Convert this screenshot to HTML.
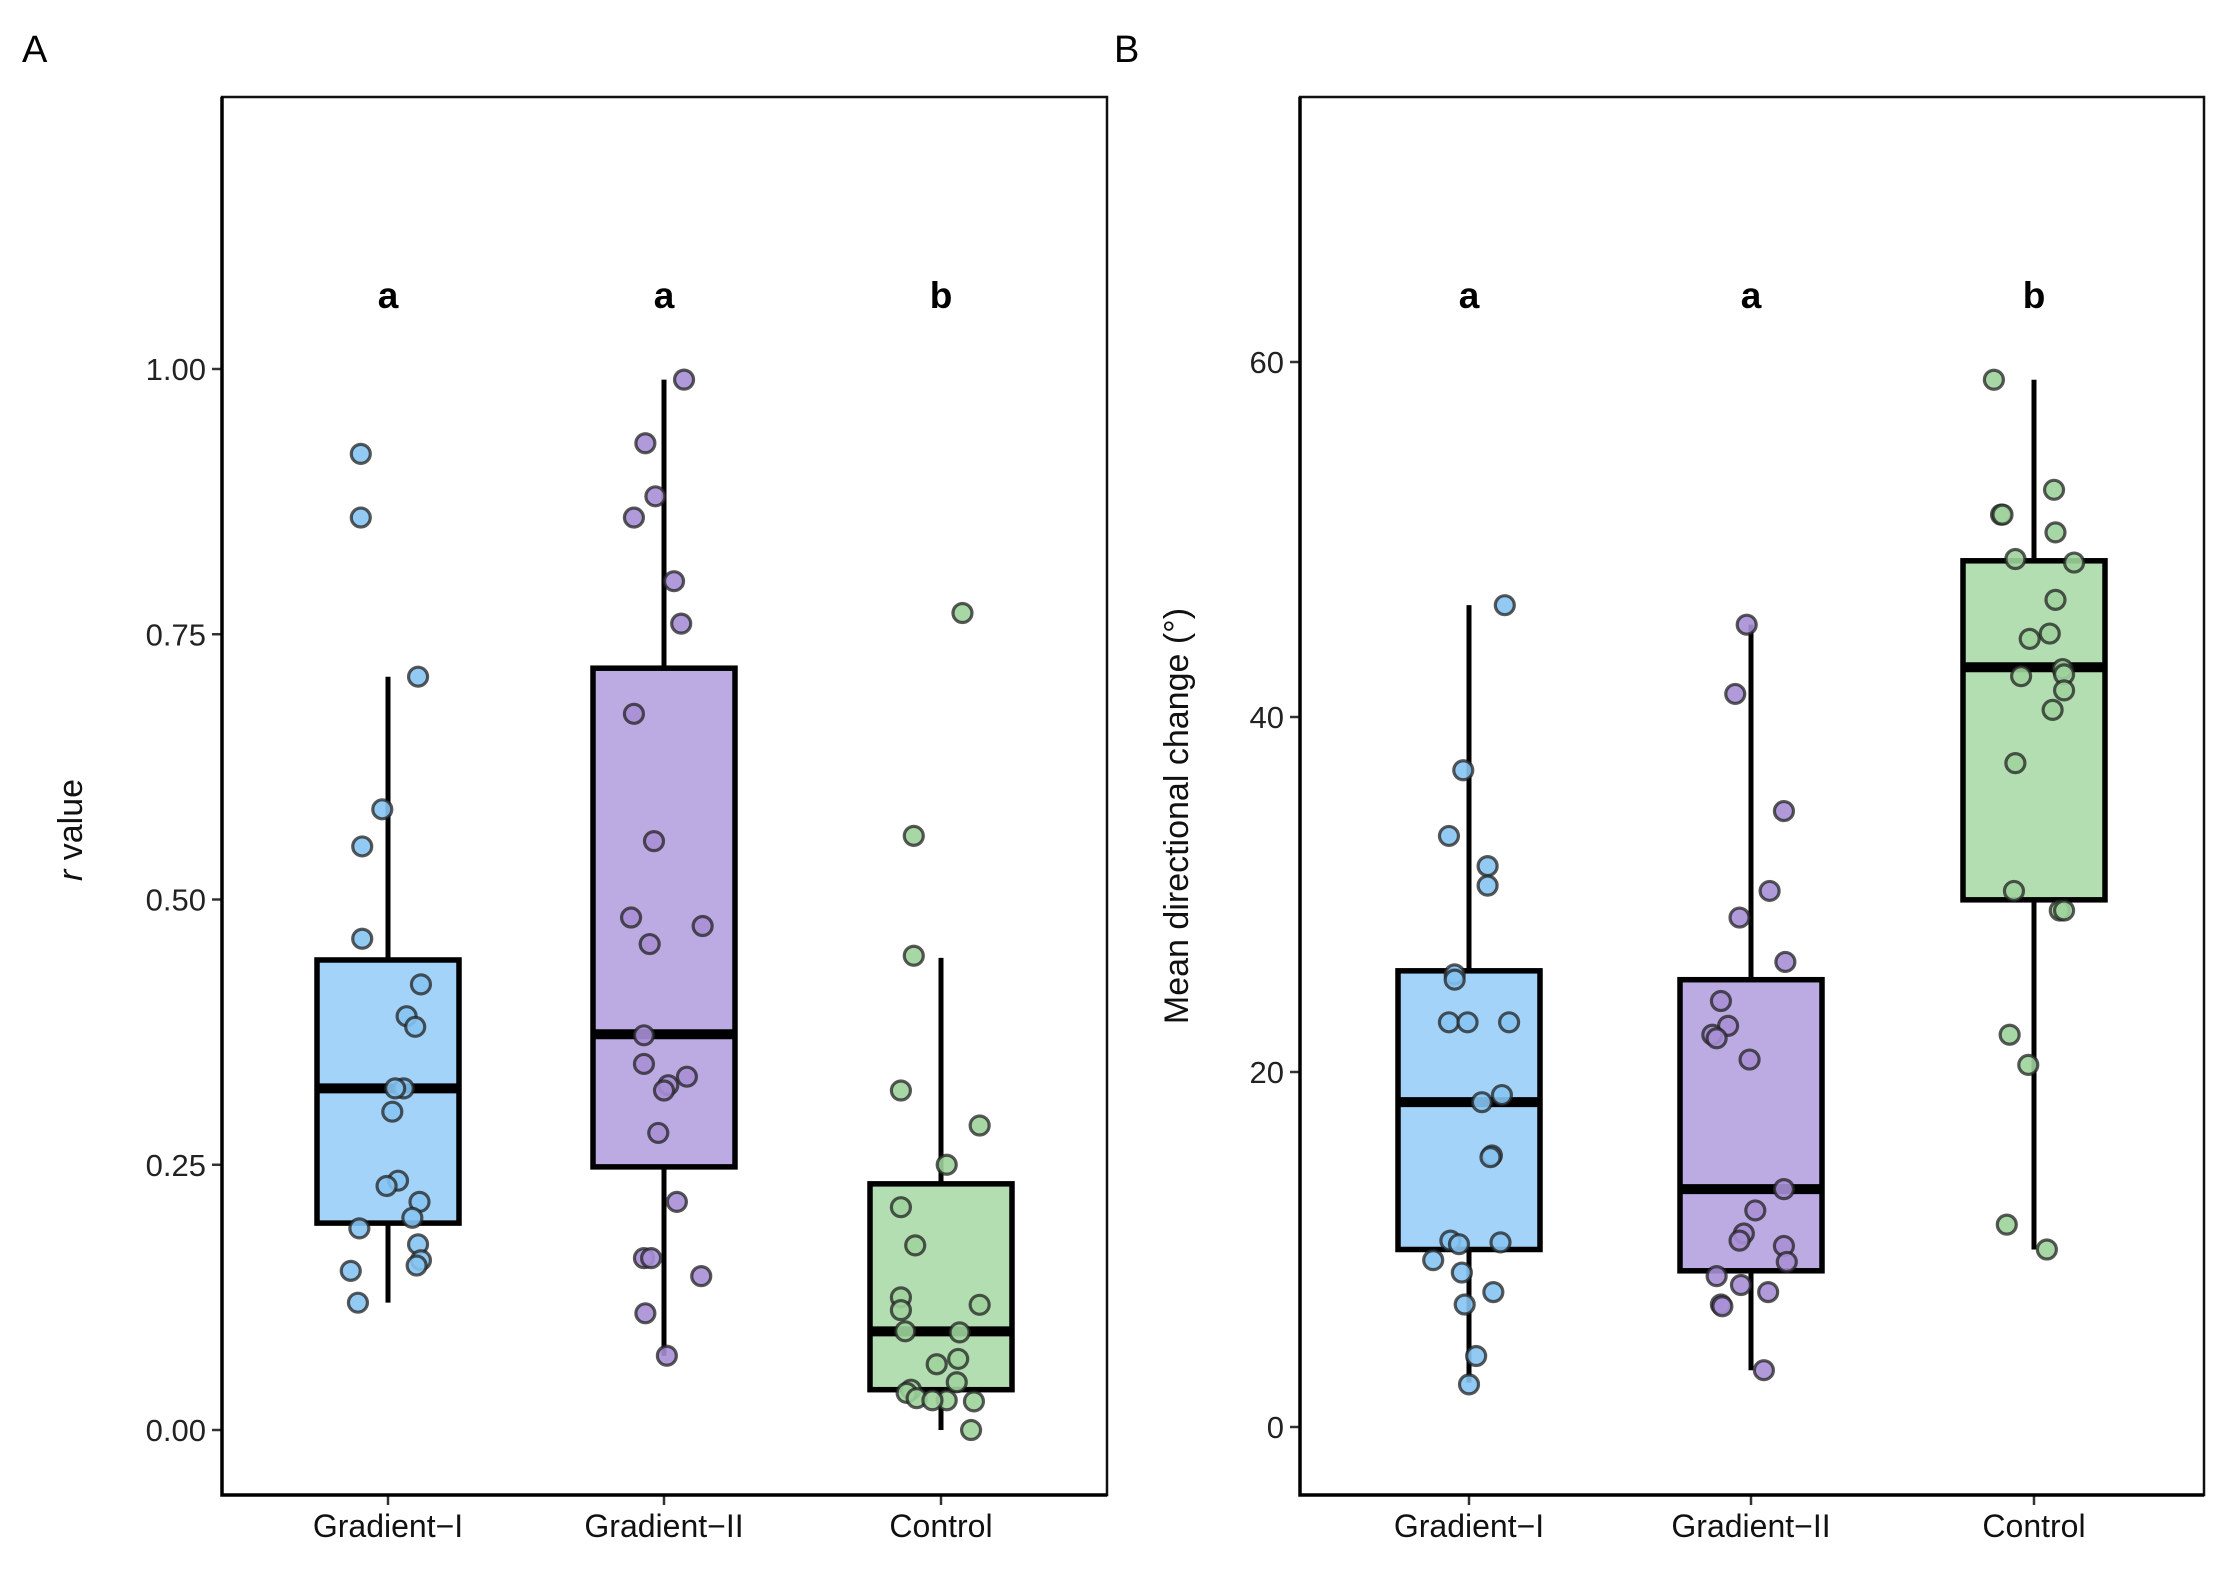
<!DOCTYPE html>
<html><head><meta charset="utf-8">
<style>
html,body{margin:0;padding:0;background:#fff;}
svg{display:block;font-family:"Liberation Sans",sans-serif;}
</style></head>
<body>
<svg id="chart" width="2234" height="1572" viewBox="0 0 2234 1572">
<text x="22" y="62" font-size="38">A</text>
<text x="1114" y="62" font-size="38">B</text>
</svg>
<script>
// ---- Panel A data (r value) ----
const categoriesA = ["Gradient\u2212I","Gradient\u2212II","Control"];
const lettersA = ["a","a","b"];
const ticksA = [0,0.25,0.5,0.75,1.0];
const tickLabelsA = ["0.00","0.25","0.50","0.75","1.00"];
const boxA_q1 = [0.195,0.248,0.038];
const boxA_med = [0.322,0.373,0.093];
const boxA_q3 = [0.443,0.718,0.232];
const boxA_lo = [0.12,0.07,0.0];
const boxA_hi = [0.71,0.99,0.445];
const pointsA_g1 = [0.92,0.86,0.71,0.585,0.55,0.463,0.42,0.39,0.38,0.322,0.322,0.30,0.235,0.23,0.215,0.20,0.19,0.175,0.16,0.155,0.15,0.12];
const jitterA_g1 = [-19,-19,21,-4,-18,-18,23,13,19,11,5,3,7,-1,22,17,-20,21,23,20,-26,-21];
const pointsA_g2 = [0.99,0.93,0.88,0.86,0.80,0.76,0.675,0.555,0.483,0.475,0.458,0.372,0.345,0.333,0.325,0.32,0.28,0.215,0.162,0.162,0.145,0.11,0.07];
const jitterA_g2 = [14,-13,-6,-21,7,12,-21,-7,-23,27,-10,-14,-14,16,3,0,-4,9,-14,-9,26,-13,2];
const pointsA_c = [0.77,0.56,0.447,0.32,0.287,0.25,0.21,0.174,0.125,0.113,0.118,0.093,0.092,0.062,0.067,0.045,0.038,0.035,0.03,0.028,0.027,0.028,0.0];
const jitterA_c = [15,-19,-19,-28,27,4,-28,-18,-28,-28,27,-25,13,-3,12,11,-21,-24,-17,4,23,-6,21];

// ---- Panel B data (Mean directional change) ----
const categoriesB = ["Gradient\u2212I","Gradient\u2212II","Control"];
const lettersB = ["a","a","b"];
const ticksB = [0,20,40,60];
const tickLabelsB = ["0","20","40","60"];
const boxB_q1 = [10,8.8,29.7];
const boxB_med = [18.3,13.4,42.8];
const boxB_q3 = [25.7,25.2,48.8];
const boxB_lo = [2.5,3.2,10];
const boxB_hi = [46.3,45.2,59];
const pointsB_g1 = [46.3,37,33.3,31.6,30.5,25.5,25.2,22.8,22.8,22.8,18.7,18.3,15.3,15.2,10.5,10.3,10.4,9.4,8.7,7.6,6.9,4.0,2.4];
const jitterB_g1 = [25,-4,-14,13,13,-10,-10,-14,-1,28,23,9,16,15,-13,-7,22,-25,-5,17,-3,5,0];
const pointsB_g2 = [45.2,41.3,34.7,30.2,28.7,26.2,24,22.6,22.1,21.9,20.7,13.4,12.2,10.9,10.5,10.2,9.3,8.5,8.0,7.6,6.9,6.8,3.2];
const jitterB_g2 = [-3,-11,23,13,-8,24,-21,-16,-27,-24,-1,23,3,-5,-8,23,25,-24,-7,12,-21,-20,9];
const pointsB_c = [59,52.8,51.4,51.4,50.4,48.9,48.7,46.6,44.7,44.4,42.7,42.4,42.3,41.5,40.4,37.4,30.2,29.1,29.1,22.1,20.4,11.4,10.0];
const jitterB_c = [-28,14,-23,-22,15,-13,28,15,11,-3,20,21,-9,21,13,-13,-14,18,21,-17,-4,-19,9];

const SC = 1.432;
const fills = ["#a3d3f8","#bcaae2","#b3deb1"];
const ptFills = ["#86c4f2","#a98fd6","#9fd39c"];
const NS = "http://www.w3.org/2000/svg";
const svg = document.getElementById("chart");
function mk(tag, attrs, parent){
  const e = document.createElementNS(NS, tag);
  for (const k in attrs) e.setAttribute(k, attrs[k]);
  (parent||svg).appendChild(e);
  return e;
}

function panel(cfg){
  const g = mk("g",{});
  
  
  const y = v => cfg.y0 + (v - cfg.v0) * (cfg.y1 - cfg.y0) / (cfg.v1 - cfg.v0);
  const xc = i => cfg.xs[i];
  cfg.ticks.forEach((t,i)=>{
    const ln = mk("line",{x1:cfg.left-10,x2:cfg.left,y1:y(t),y2:y(t),stroke:"#333","stroke-width":2.5},g);
    
    
    const tx = mk("text",{x:cfg.left-16,y:y(t)+11,"text-anchor":"end","font-size":31,fill:"#222"},g);
    tx.textContent = cfg.tickLabels[i];
    
    
  });
  cfg.cats.forEach((c,i)=>{
    const ln = mk("line",{x1:xc(i),x2:xc(i),y1:cfg.bottom,y2:cfg.bottom+10,stroke:"#333","stroke-width":2.5},g);
    
    
    const tx = mk("text",{x:xc(i),y:cfg.bottom+42,"text-anchor":"middle","font-size":32,fill:"#111"},g);
    tx.textContent = c;
    
    
    const lt = mk("text",{x:xc(i),y:308,"text-anchor":"middle","font-size":37,"font-weight":"bold",fill:"#000"},g);
    lt.textContent = cfg.letters[i];
    
    
    const w = mk("line",{x1:xc(i),x2:xc(i),y1:y(cfg.lo[i]),y2:y(cfg.hi[i]),stroke:"#000","stroke-width":5},g);
    
    
    const bw = 142;
    const r = mk("rect",{x:xc(i)-bw/2,y:y(cfg.q3[i]),width:bw,height:y(cfg.q1[i])-y(cfg.q3[i]),fill:fills[i],stroke:"#000","stroke-width":5.5},g);
    
    
    const m = mk("line",{x1:xc(i)-bw/2,x2:xc(i)+bw/2,y1:y(cfg.med[i]),y2:y(cfg.med[i]),stroke:"#000","stroke-width":10},g);
    
    
    cfg.pts[i].forEach((v,j)=>{
      const p = mk("circle",{cx:xc(i)+cfg.jit[i][j]*SC,cy:y(v),r:9.5,fill:ptFills[i],"fill-opacity":0.9,stroke:"#222","stroke-opacity":0.75,"stroke-width":3.2},g);
      
      
    });
  });
  const fr = mk("rect",{x:cfg.left,y:cfg.top,width:cfg.right-cfg.left,height:cfg.bottom-cfg.top,fill:"none",stroke:"#111","stroke-width":2.5},g);
  
  
  const ax = mk("path",{d:`M${cfg.left},${cfg.top} V${cfg.bottom} H${cfg.right}`,fill:"none",stroke:"#000","stroke-width":3.5},g);
  
  
  const tt = mk("text",{x:cfg.titleX,y:cfg.titleY,"text-anchor":"middle","font-size":34,fill:"#111",transform:`rotate(-90 ${cfg.titleX} ${cfg.titleY})`},g);
  tt.innerHTML = cfg.title;
  
  
}

panel({name:"panel-a",left:222,right:1107,top:97,bottom:1495,v0:0,v1:1,y0:1430,y1:369,
  xs:[388,664,941],cats:categoriesA,letters:lettersA,ticks:ticksA,tickLabels:tickLabelsA,
  q1:boxA_q1,med:boxA_med,q3:boxA_q3,lo:boxA_lo,hi:boxA_hi,
  pts:[pointsA_g1,pointsA_g2,pointsA_c],jit:[jitterA_g1,jitterA_g2,jitterA_c],
  title:'<tspan font-style="italic">r</tspan> value',titleX:82,titleY:830});
panel({name:"panel-b",left:1300,right:2204,top:97,bottom:1495,v0:0,v1:60,y0:1427,y1:362,
  xs:[1469,1751,2034],cats:categoriesB,letters:lettersB,ticks:ticksB,tickLabels:tickLabelsB,
  q1:boxB_q1,med:boxB_med,q3:boxB_q3,lo:boxB_lo,hi:boxB_hi,
  pts:[pointsB_g1,pointsB_g2,pointsB_c],jit:[jitterB_g1,jitterB_g2,jitterB_c],
  title:'Mean directional change (°)',titleX:1188,titleY:816});
</script>
</body></html>
